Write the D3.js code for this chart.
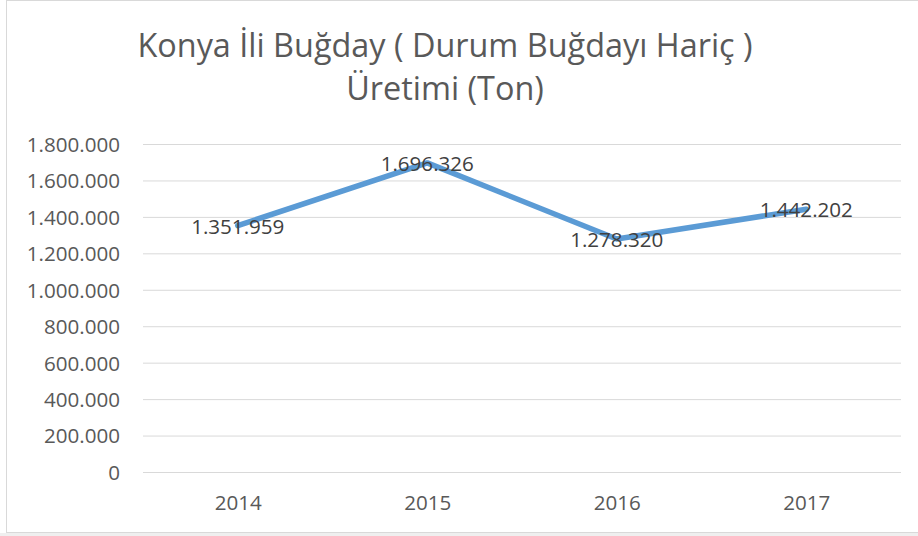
<!DOCTYPE html>
<html>
<head>
<meta charset="utf-8">
<title>Konya İli Buğday Üretimi</title>
<script src="https://d3js.org/d3.v7.min.js"></script>
<style>
  html, body { margin: 0; padding: 0; background: #fff; }
  svg { display: block; font-family: "Open Sans", sans-serif; }
</style>
</head>
<body>
<svg></svg>
<script>
var years = ["2014", "2015", "2016", "2017"];
var production = [1351959, 1696326, 1278320, 1442202];
var yTicks = [0, 200000, 400000, 600000, 800000, 1000000, 1200000, 1400000, 1600000, 1800000];
var titleLines = ["Konya İli Buğday ( Durum Buğdayı Hariç )", "Üretimi (Ton)"];

var width = 918, height = 536;
var plot = {left: 143, right: 901, top: 144, bottom: 472};

// Turkish style thousands: 1.800.000
var fmt = d3.formatLocale({decimal: ",", thousands: ".", grouping: [3], currency: ["", "₺"]}).format(",");

var svg = d3.select("svg").attr("width", width).attr("height", height);

// frame and the grey strip under it
svg.append("rect")
    .attr("x", 0).attr("y", 533).attr("width", width).attr("height", 3)
    .attr("fill", "#efefef");
svg.append("rect")
    .attr("x", 6.5).attr("y", 0.5).attr("width", width).attr("height", 532)
    .attr("fill", "#fff").attr("stroke", "#d9d9d9");

// title
svg.append("g").selectAll("text")
    .data(titleLines)
  .enter().append("text")
    .attr("x", 445)
    .attr("y", function(d, i){ return 57 + i * 43; })
    .attr("text-anchor", "middle")
    .style("font-size", "32.4px")
    .style("fill", "#595959")
    .text(function(d){ return d; });

var x = d3.scalePoint().domain(years).range([plot.left, plot.right]).padding(0.5);
var y = d3.scaleLinear().domain([0, 1800000]).range([plot.bottom, plot.top]);

// grid lines and y labels
var yAxis = svg.append("g")
    .attr("transform", "translate(" + plot.left + ",0)")
    .call(d3.axisLeft(y).tickValues(yTicks).tickFormat(fmt)
          .tickSize(-(plot.right - plot.left)).tickPadding(23));
yAxis.select(".domain").remove();
yAxis.selectAll(".tick line").attr("stroke", "#d9d9d9").attr("stroke-width", 1);
yAxis.selectAll(".tick text")
    .attr("dy", "0.36em")
    .style("font-size", "20.6px")
    .style("font-family", "'Open Sans', sans-serif")
    .style("fill", "#595959");

// x labels
var xAxis = svg.append("g")
    .attr("transform", "translate(0," + plot.bottom + ")")
    .call(d3.axisBottom(x).tickSize(0).tickPadding(23));
xAxis.select(".domain").remove();
xAxis.selectAll(".tick text")
    .style("font-size", "20.6px")
    .style("font-family", "'Open Sans', sans-serif")
    .style("fill", "#595959");

// the line
var line = d3.line()
    .x(function(d, i){ return x(years[i]); })
    .y(function(d){ return y(d); });
svg.append("path")
    .datum(production)
    .attr("d", line)
    .attr("fill", "none")
    .attr("stroke", "#5b9bd5")
    .attr("stroke-width", 5.5)
    .attr("stroke-linecap", "round")
    .attr("stroke-linejoin", "round");

// data labels, centred on the points
svg.append("g").selectAll("text")
    .data(production)
  .enter().append("text")
    .attr("x", function(d, i){ return x(years[i]); })
    .attr("y", function(d){ return y(d); })
    .attr("dy", "0.4em")
    .attr("text-anchor", "middle")
    .style("font-size", "20.6px")
    .style("fill", "#404040")
    .text(function(d){ return fmt(d); });
</script>
</body>
</html>
